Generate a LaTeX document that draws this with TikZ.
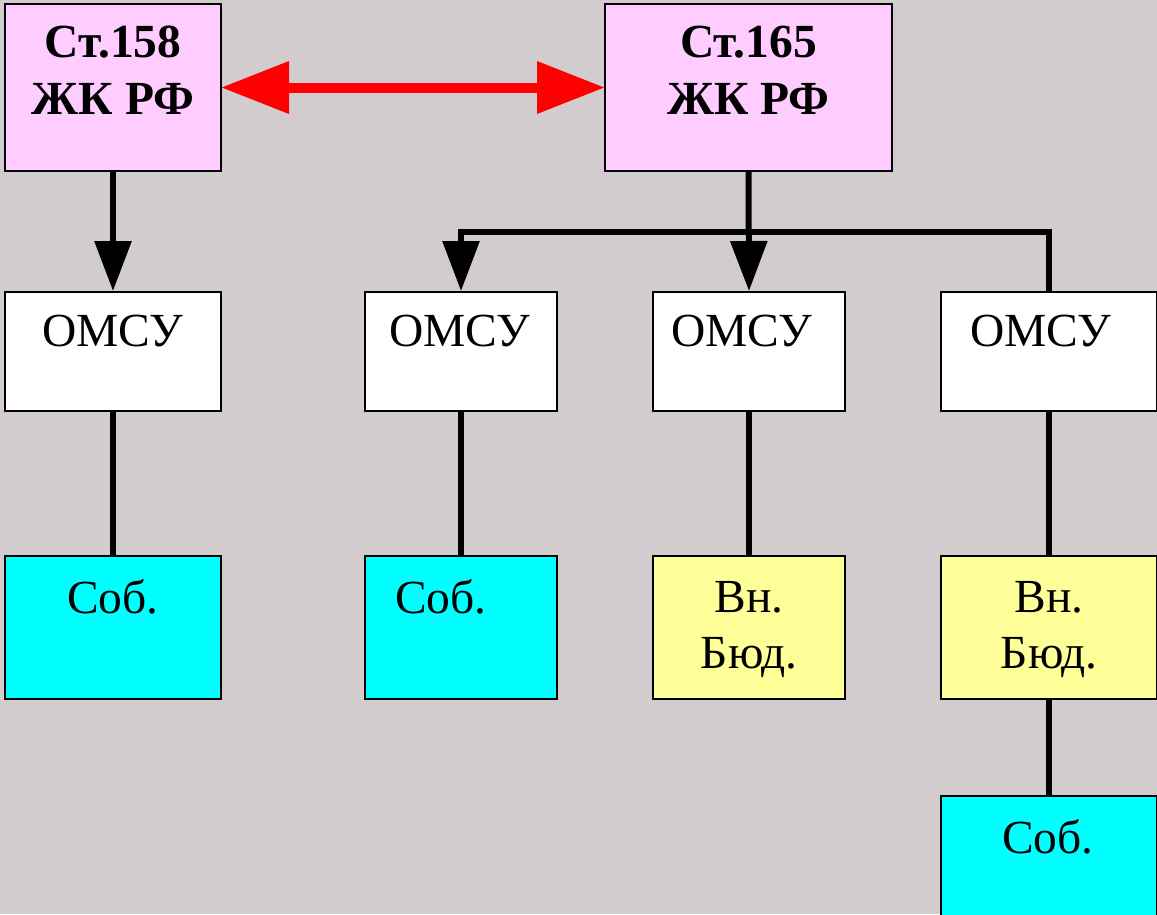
\documentclass[tikz,border=0pt]{standalone}
\usepackage{fontspec}
\setmainfont{Liberation Serif}
\usetikzlibrary{arrows.meta,calc}
\definecolor{bg}{RGB}{210,204,206}
\definecolor{pinkbox}{RGB}{255,204,255}
\definecolor{yellowbox}{RGB}{255,255,153}
\definecolor{cyanbox}{RGB}{0,255,255}
\begin{document}
\begin{tikzpicture}[x=1pt,y=-1pt,
  box/.style={draw=black, line width=2pt, anchor=north west, inner sep=0pt},
  lbl/.style={anchor=north, inner sep=0pt, align=center, font=\fontsize{47.5}{56}\selectfont},
  blbl/.style={lbl, font=\fontsize{47.5}{57}\selectfont\bfseries},
  conn/.style={line width=6pt},
  arr/.style={conn, -{Triangle[length=50pt,width=36pt]}},
  redarr/.style={line width=10pt, red, {Triangle[length=68pt,width=50pt]}-{Triangle[length=68pt,width=50pt]}, shorten <=-1pt, shorten >=-1pt}
]
\fill[bg] (0,0) rectangle (1157,914);
\useasboundingbox (0,0) rectangle (1157,914);

% top boxes
\node[box, fill=pinkbox, minimum width=216pt, minimum height=167pt] (a) at (4,3) {};
\node[blbl] (at) at ($(a.north)+(0,23)$) {Ст.158\\ЖК РФ};
\node[box, fill=pinkbox, minimum width=287pt, minimum height=167pt] (b) at (604,3) {};
\node[blbl] (bt) at ($(b.north)+(0,23)$) {Ст.165\\ЖК РФ};

% OMSU boxes
\node[box, fill=white, minimum width=216pt, minimum height=119pt] (o1) at (4,291) {};
\node[box, fill=white, minimum width=192pt, minimum height=119pt] (o2) at (364,291) {};
\node[box, fill=white, minimum width=192pt, minimum height=119pt] (o3) at (652,291) {};
\node[box, fill=white, minimum width=216pt, minimum height=119pt] (o4) at (940,291) {};
\node[lbl] (o1t) at ($(o1.north)+(0,24)$) {ОМСУ};
\node[lbl] (o2t) at ($(o2.north)+(-1,24)$) {ОМСУ};
\node[lbl] (o3t) at ($(o3.north)+(-7,24)$) {ОМСУ};
\node[lbl] (o4t) at ($(o4.north)+(-8,24)$) {ОМСУ};

% lower boxes
\node[box, fill=cyanbox, minimum width=216pt, minimum height=143pt] (c1) at (4,555) {};
\node[box, fill=cyanbox, minimum width=192pt, minimum height=143pt] (c2) at (364,555) {};
\node[box, fill=yellowbox, minimum width=192pt, minimum height=143pt] (y1) at (652,555) {};
\node[box, fill=yellowbox, minimum width=216pt, minimum height=143pt] (y2) at (940,555) {};
\node[box, fill=cyanbox, minimum width=216pt, minimum height=140pt] (c3) at (940,795) {};
\node[lbl] (c1t) at ($(c1.north)+(0,24)$) {Соб.};
\node[lbl] (c2t) at ($(c2.north)+(-20,24)$) {Соб.};
\node[lbl] (y1t) at ($(y1.north)+(0,26)$) {Вн.\\Бюд.};
\node[lbl] (y2t) at ($(y2.north)+(0,26)$) {Вн.\\Бюд.};
\node[lbl] (c3t) at ($(c3.north)+(-1,24)$) {Соб.};

% connectors
\draw[redarr] (a.east) -- (b.west);
\draw[arr] (a.south) -- (o1.north);
\draw[arr] (b.south) -- (o3.north);
\draw[arr] (o4.north) -- ++(0,-59) -| (o2.north);
\draw[conn] (o1.south) -- (c1.north);
\draw[conn] (o2.south) -- (c2.north);
\draw[conn] (o3.south) -- (y1.north);
\draw[conn] (o4.south) -- (y2.north);
\draw[conn] (y2.south) -- (c3.north);
\end{tikzpicture}
\end{document}
